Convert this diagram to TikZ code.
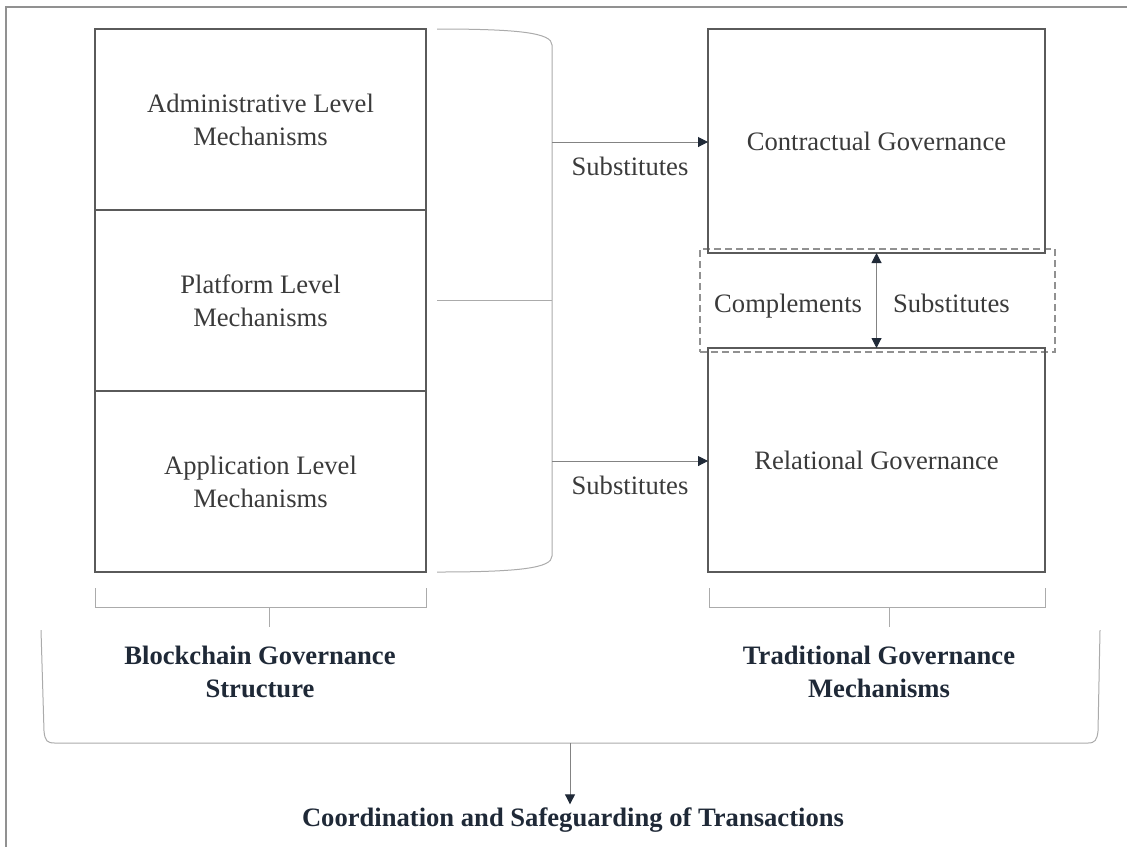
\documentclass[tikz,border=0pt]{standalone}
\usepackage{fontspec}
\setmainfont{Liberation Serif}
\usetikzlibrary{calc,shapes,arrows.meta,positioning}

\definecolor{boxline}{HTML}{5A5A5A}
\definecolor{lightline}{HTML}{ABABAB}
\definecolor{txt}{HTML}{3A3A3A}
\definecolor{navy}{HTML}{1F2937}

\begin{document}
\begin{tikzpicture}[x=0.5pt,y=-0.5pt,
  mech/.style={draw=boxline,line width=0.7pt,minimum width=165.5pt,minimum height=90.5pt,
    inner sep=0pt,outer sep=0pt,align=center,text=txt,font=\fontsize{13.3}{16.5}\selectfont},
  gov/.style={mech,minimum width=168.5pt,minimum height=112pt},
  lbl/.style={inner sep=0pt,text height=9pt,text depth=0pt,text=txt,font=\fontsize{13.3}{16.5}\selectfont},
  head/.style={inner sep=0pt,align=center,text=navy,font=\fontsize{13.3}{16.5}\selectfont\bfseries},
  thin/.style={draw=lightline,line width=0.5pt},
  arr/.style={draw=boxline!75,line width=0.5pt,-{Triangle[length=5pt,width=5pt,color=navy]}},
  darr/.style={draw=boxline!75,line width=0.5pt,
    {Triangle[length=5pt,width=5pt,color=navy]}-{Triangle[length=5pt,width=5pt,color=navy]}}]
\useasboundingbox (0,0) rectangle (1127,847);
% frame
\draw[lightline!85!black,line width=0.6pt] (1127,7) -- (6,7) -- (6,847);

% blockchain side
\node[mech] (admin) at (260.5,119.5) {Administrative Level\\Mechanisms};
\node[mech,below=0pt of admin] (platform) {Platform Level\\Mechanisms};
\node[mech,below=0pt of platform] (app) {Application Level\\Mechanisms};
\draw[thin] (437,29) .. controls (520,29) and (552,33) .. (552,45) -- (552,556)
  .. controls (552,568) and (520,572) .. (437,572);
\draw[thin] (437,300) -- (552,300);
\coordinate (subA) at (552,142);
\coordinate (subB) at (552,461);

% traditional side
\node[draw=lightline!85!black,dash pattern=on 3.5pt off 2pt,line width=0.6pt,
  minimum width=177.5pt,minimum height=51.5pt] (pair) at (877.5,300.5) {};
\node[gov] (contract) at (876.5,141) {Contractual Governance};
\node[gov] (relation) at (876.5,460) {Relational Governance};

\draw[arr] (subA) -- (subA -| contract.west) node[lbl,midway,below=7.5pt] {Substitutes};
\draw[arr] (subB) -- (subB -| relation.west) node[lbl,midway,below=7.5pt] {Substitutes};
\draw[darr] (contract.south) -- (relation.north)
  node[lbl,midway,left=7pt,yshift=-1.5pt] {Complements}
  node[lbl,midway,right=8pt,yshift=-1.5pt] {Substitutes};

% brackets
\draw[thin] (95,588) -- (95,607) -- (426,607) -- (426,588) (269,607) -- (269,627);
\draw[thin] (709,588) -- (709,607) -- (1045,607) -- (1045,588) (889,607) -- (889,627);
\node[head] (chain) at (260,672) {Blockchain Governance\\Structure};
\node[head] (trad) at (879,672) {Traditional Governance\\Mechanisms};

% outcome
\draw[thin] (41,630) -- (44,731) .. controls (45,741) and (47,743) .. (55,743) -- (1088,743)
  .. controls (1095,743) and (1097,740) .. (1098,731) -- (1100,630);
\coordinate (join) at (570,743);
\node[head] (coord) at (573,820) {Coordination and Safeguarding of Transactions};
\draw[arr,shorten >=1.5pt] (join) -- (join |- coord.north);
\end{tikzpicture}
\end{document}
